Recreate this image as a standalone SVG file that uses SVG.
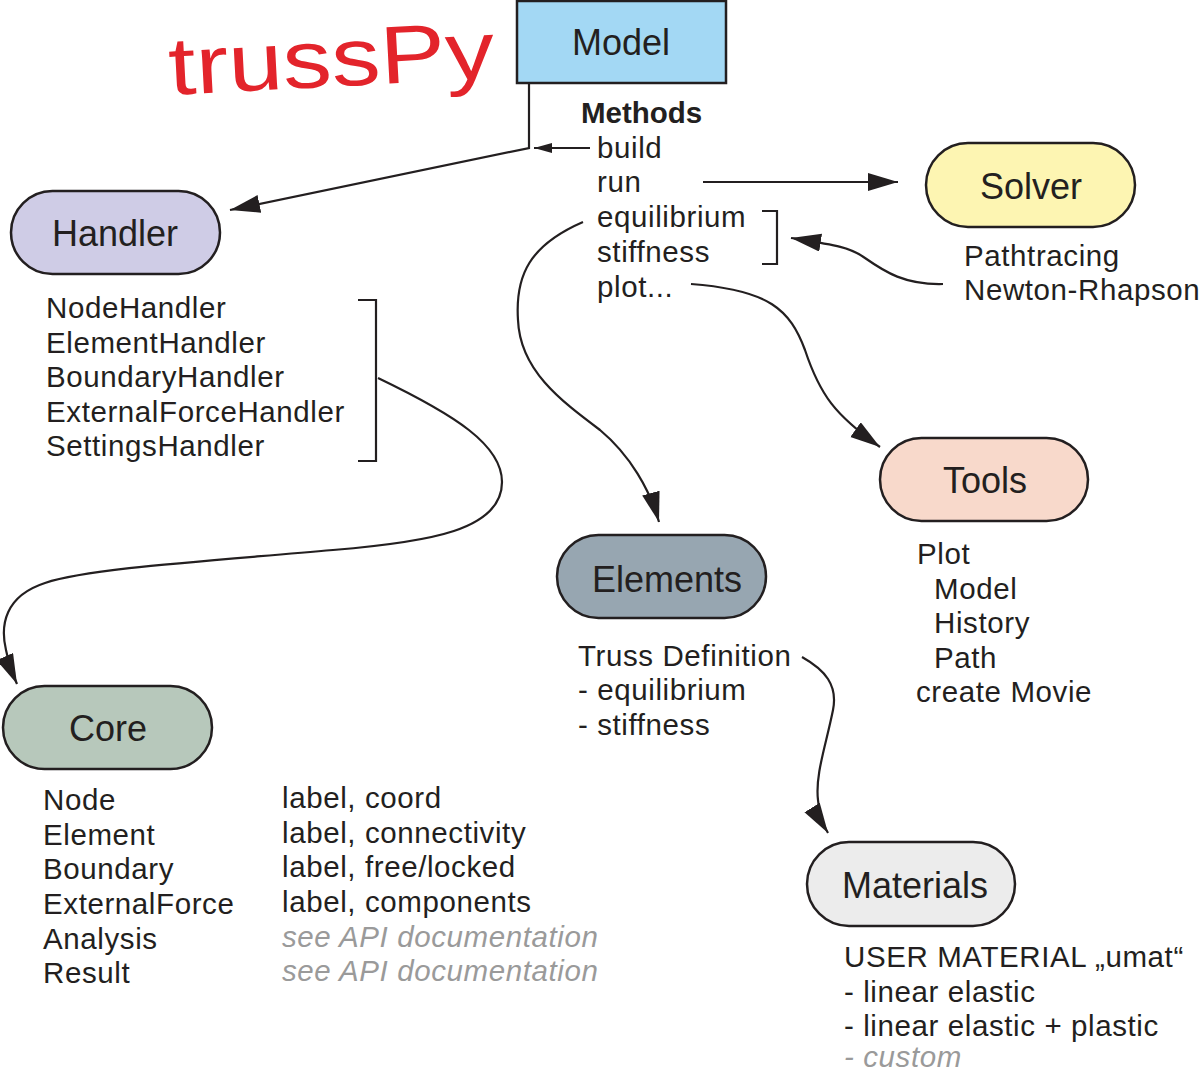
<svg xmlns="http://www.w3.org/2000/svg" width="1200" height="1071" viewBox="0 0 1200 1071">
<defs>
<style>
.t{font-family:"Liberation Sans",Arial,sans-serif;font-size:29.5px;fill:#231f20;letter-spacing:0.6px}
.lbl{font-family:"Liberation Sans",Arial,sans-serif;font-size:36px;fill:#231f20;text-anchor:middle}
.b{font-weight:bold;letter-spacing:0}
.g{fill:#9a9a9a;font-style:italic}
.node{stroke:#231f20;stroke-width:2.5}
.c{fill:none;stroke:#231f20;stroke-width:2.2}
</style>
<marker id="ah" markerUnits="userSpaceOnUse" markerWidth="32" markerHeight="20" refX="30" refY="9" orient="auto">
<path d="M0,0 L30,9 L0,18 Z" fill="#231f20"/>
</marker>
<marker id="ahs" markerUnits="userSpaceOnUse" markerWidth="20" markerHeight="12" refX="18" refY="5" orient="auto">
<path d="M0,0 L18,5 L0,10 Z" fill="#231f20"/>
</marker>
</defs>
<rect width="1200" height="1071" fill="#ffffff"/>

<g id="logo">
<text x="170" y="95" transform="rotate(-3 170 95)" font-family="Liberation Sans,Arial,sans-serif" font-size="82" fill="#e3242b" textLength="326" lengthAdjust="spacingAndGlyphs">trussPy</text>
</g>

<g id="connectors">
<path class="c" d="M529,83 V148 L230,210" marker-end="url(#ah)"/>
<path class="c" d="M590,148 H534" marker-end="url(#ahs)"/>
<path class="c" d="M703,182 H898" marker-end="url(#ah)"/>
<path class="c" d="M762,211 H777 V264 H762"/>
<path class="c" d="M943,284 C905,285 885,272 865,258 C850,247 835,245 791,238" marker-end="url(#ah)"/>
<path class="c" d="M583,222 C530,245 515,275 518,320 C520,370 560,400 600,430 C630,455 650,490 659,522" marker-end="url(#ah)"/>
<path class="c" d="M691,284 C770,290 790,310 805,350 C820,395 835,415 880,447" marker-end="url(#ah)"/>
<path class="c" d="M358,300 H376 V461 H358"/>
<path class="c" d="M378,378 C455,415 502,445 502,482 C502,530 430,542 333,550 C210,561 90,568 45,583 C5,596 0,625 6,650 C9,665 13,675 17,684" marker-end="url(#ah)"/>
<path class="c" d="M802,657 C825,670 838,685 833,710 C826,745 815,775 818,800 C819,815 823,825 828,833" marker-end="url(#ah)"/>
</g>

<g id="model">
<rect class="node" x="517" y="1" width="209" height="82" fill="#a3d8f4"/>
<text class="lbl" x="621" y="55">Model</text>
<text class="t b" x="581" y="123">Methods</text>
<text class="t" x="597" y="158">build</text>
<text class="t" x="597" y="192">run</text>
<text class="t" x="597" y="227">equilibrium</text>
<text class="t" x="597" y="262">stiffness</text>
<text class="t" x="597" y="297">plot...</text>
</g>

<g id="handler">
<rect class="node" x="11" y="191" width="209" height="83" rx="41.5" fill="#cfcce6"/>
<text class="lbl" x="115" y="246">Handler</text>
<text class="t" x="46" y="318">NodeHandler</text>
<text class="t" x="46" y="353">ElementHandler</text>
<text class="t" x="46" y="387">BoundaryHandler</text>
<text class="t" x="46" y="422">ExternalForceHandler</text>
<text class="t" x="46" y="456">SettingsHandler</text>
</g>

<g id="solver">
<rect class="node" x="926" y="143" width="209" height="84" rx="42" fill="#fdf5b2"/>
<text class="lbl" x="1031" y="199">Solver</text>
<text class="t" x="964" y="266">Pathtracing</text>
<text class="t" x="964" y="300">Newton-Rhapson</text>
</g>

<g id="tools">
<rect class="node" x="880" y="438" width="208" height="83" rx="41.5" fill="#f8d9cb"/>
<text class="lbl" x="985" y="493">Tools</text>
<text class="t" x="917" y="564">Plot</text>
<text class="t" x="934" y="599">Model</text>
<text class="t" x="934" y="633">History</text>
<text class="t" x="934" y="668">Path</text>
<text class="t" x="916" y="702">create Movie</text>
</g>

<g id="elements">
<rect class="node" x="557" y="535" width="209" height="83" rx="41.5" fill="#97a6b1"/>
<text class="lbl" x="667" y="592">Elements</text>
<text class="t" x="578" y="666">Truss Definition</text>
<text class="t" x="578" y="700">- equilibrium</text>
<text class="t" x="578" y="735">- stiffness</text>
</g>

<g id="core">
<rect class="node" x="3" y="686" width="209" height="83" rx="41.5" fill="#b7c8bb"/>
<text class="lbl" x="108" y="741">Core</text>
<text class="t" x="43" y="810">Node</text>
<text class="t" x="43" y="845">Element</text>
<text class="t" x="43" y="879">Boundary</text>
<text class="t" x="43" y="914">ExternalForce</text>
<text class="t" x="43" y="949">Analysis</text>
<text class="t" x="43" y="983">Result</text>
<text class="t" x="282" y="808">label, coord</text>
<text class="t" x="282" y="843">label, connectivity</text>
<text class="t" x="282" y="877">label, free/locked</text>
<text class="t" x="282" y="912">label, components</text>
<text class="t g" x="282" y="947">see API documentation</text>
<text class="t g" x="282" y="981">see API documentation</text>
</g>

<g id="materials">
<rect class="node" x="807" y="842" width="208" height="84" rx="42" fill="#ececec"/>
<text class="lbl" x="915" y="898">Materials</text>
<text class="t" x="844" y="967">USER MATERIAL „umat“</text>
<text class="t" x="844" y="1002">- linear elastic</text>
<text class="t" x="844" y="1036">- linear elastic + plastic</text>
<text class="t g" x="844" y="1067">- custom</text>
</g>
</svg>
